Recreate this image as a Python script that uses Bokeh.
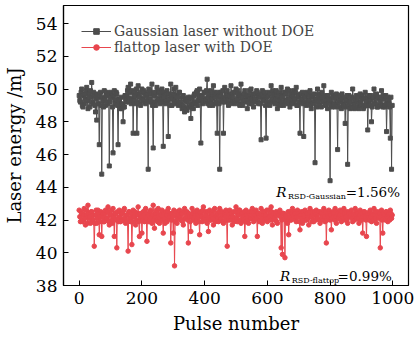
from bokeh.plotting import figure
from bokeh.models import Label, Range1d, FixedTicker, Legend
from bokeh.embed import file_html
from bokeh.resources import INLINE

# Pulse numbers: two interleaved samplings (every 4 pulses, offset by 2)
pulse_a = list(range(0, 1000, 4))
pulse_b = list(range(2, 1000, 4))

gaussian_a = [
    49.6, 49.2, 50.0, 48.9, 49.7, 49.4, 50.1, 48.8, 49.5, 49.9,
    50.4, 49.1, 49.6, 48.6, 48.1, 49.5, 46.6, 49.8, 44.8, 49.3,
    49.9, 49.0, 49.6, 49.2, 45.3, 49.8, 49.5, 46.1, 49.9, 49.1,
    49.7, 46.6, 49.3, 49.0, 48.8, 48.0, 48.9, 49.4, 49.6, 50.1,
    49.2, 50.3, 49.4, 47.3, 49.8, 49.1, 47.3, 50.2, 49.5, 49.0,
    50.0, 49.3, 49.8, 49.1, 49.7, 45.1, 49.9, 49.2, 50.3, 46.4,
    49.6, 49.0, 50.1, 49.4, 49.8, 49.2, 50.0, 46.5, 49.5, 49.1,
    49.9, 47.1, 49.4, 50.3, 49.0, 49.7, 49.3, 50.1, 49.5, 49.0,
    49.8, 49.2, 48.8, 49.6, 48.6, 49.3, 48.7, 49.5, 48.9, 48.2,
    49.4, 48.8, 49.7, 49.1, 49.9, 49.3, 50.0, 46.7, 49.6, 49.2,
    49.8, 49.3, 50.6, 49.5, 49.0, 49.9, 49.4, 50.2, 49.1, 49.7,
    47.3, 49.5, 45.1, 49.8, 49.2, 47.3, 50.1, 49.4, 49.9, 49.0,
    49.6, 50.2, 49.3, 49.8, 49.1, 50.0, 49.4, 49.7, 49.0, 50.3,
    49.5, 49.2, 49.9, 49.3, 48.8, 49.6, 49.1, 50.0, 49.4, 48.9,
    49.7, 49.2, 49.8, 49.1, 49.5, 46.9, 49.9, 49.3, 49.6, 47.0,
    49.2, 49.8, 49.0, 50.2, 49.4, 49.7, 49.1, 49.9, 48.8, 49.6,
    49.3, 50.1, 49.5, 49.0, 49.8, 49.2, 50.0, 49.4, 48.9, 49.7,
    49.1, 49.9, 49.4, 50.1, 49.0, 49.6, 47.3, 49.2, 49.8, 47.1,
    49.5, 49.0, 49.7, 49.3, 49.9, 48.8, 49.6, 49.1, 45.5, 49.4,
    50.0, 49.2, 49.7, 48.9, 49.5, 50.2, 49.1, 49.6, 48.8, 49.4,
    44.4, 49.8, 49.0, 49.5, 48.9, 49.7, 46.3, 49.2, 49.6, 48.8,
    49.4, 49.0, 47.9, 49.3, 45.4, 49.6, 48.8, 49.5, 50.0, 49.1,
    48.9, 49.6, 49.2, 48.8, 49.7, 49.0, 49.4, 48.9, 49.8, 49.2,
    47.5, 49.6, 49.0, 48.0, 49.4, 50.0, 49.1, 49.7, 48.9, 49.5,
    49.2, 49.9, 48.9, 49.6, 49.0, 47.4, 49.5, 49.1, 47.0, 45.1,
]

gaussian_b = [
    49.3, 49.8, 49.0, 49.6, 49.1, 49.9, 49.3, 49.7, 48.9, 49.5,
    49.2, 49.8, 49.0, 49.4, 49.7, 49.1, 49.6, 49.0, 49.5, 48.9,
    49.4, 49.8, 49.1, 49.7, 49.2, 49.5, 48.9, 49.6, 49.3, 49.8,
    49.0, 49.4, 48.8, 49.5, 49.1, 48.9, 49.6, 49.2, 49.9, 49.4,
    49.8, 49.1, 49.9, 49.3, 49.6, 50.0, 49.2, 49.7, 49.1, 49.8,
    49.4, 49.9, 49.2, 49.6, 49.3, 50.0, 49.4, 49.7, 49.0, 49.8,
    49.2, 49.8, 49.3, 49.9, 49.1, 49.6, 49.4, 49.8, 49.2, 49.7,
    49.3, 49.7, 49.0, 49.6, 49.4, 50.0, 49.1, 49.6, 49.2, 49.8,
    49.1, 49.5, 49.0, 48.9, 49.4, 48.8, 49.2, 48.9, 49.5, 49.0,
    49.1, 49.6, 49.2, 49.8, 49.0, 49.6, 49.3, 49.5, 49.1, 49.8,
    49.4, 49.9, 49.1, 49.7, 49.3, 49.6, 49.0, 49.8, 49.5, 49.2,
    49.8, 49.1, 49.6, 49.3, 49.9, 49.5, 49.2, 49.7, 49.3, 49.6,
    49.1, 49.7, 49.5, 49.2, 49.8, 49.3, 49.9, 49.1, 49.6, 49.4,
    49.0, 49.7, 49.3, 49.6, 49.2, 49.9, 49.4, 49.1, 49.7, 49.3,
    49.4, 49.9, 49.2, 49.6, 49.1, 49.7, 49.4, 49.8, 49.0, 49.5,
    49.6, 49.1, 49.7, 49.3, 49.9, 49.2, 49.6, 49.4, 49.1, 49.8,
    49.0, 49.6, 49.2, 49.8, 49.3, 49.7, 49.1, 49.9, 49.4, 49.2,
    49.6, 49.3, 49.8, 49.0, 49.5, 49.2, 49.7, 49.4, 49.1, 49.6,
    49.2, 49.8, 49.1, 49.6, 49.0, 49.5, 49.2, 49.7, 49.3, 48.9,
    49.6, 49.0, 49.4, 49.8, 49.2, 49.5, 49.0, 49.3, 49.6, 49.1,
    49.3, 48.9, 49.6, 49.1, 49.4, 49.0, 49.5, 48.9, 49.3, 49.7,
    49.1, 49.5, 48.9, 49.6, 49.0, 49.2, 49.5, 48.9, 49.4, 48.8,
    49.3, 48.9, 49.5, 49.1, 49.2, 49.6, 48.8, 49.4, 49.0, 49.5,
    49.0, 49.3, 49.6, 48.9, 49.5, 49.1, 49.6, 48.9, 49.4, 49.0,
    49.5, 49.0, 49.4, 48.9, 49.6, 49.1, 49.3, 48.9, 49.5, 49.0,
]

flattop_a = [
    42.6, 41.9, 42.4, 42.0, 42.7, 41.7, 42.3, 42.9, 42.1, 41.8,
    42.5, 42.0, 40.4, 42.3, 41.8, 42.6, 41.1, 42.2, 41.0, 42.4,
    41.9, 42.6, 42.1, 42.8, 41.7, 42.3, 42.0, 42.7, 41.0, 42.4,
    40.3, 42.1, 42.6, 41.9, 42.4, 42.0, 42.7, 41.8, 42.3, 40.1,
    42.5, 41.9, 40.5, 42.6, 42.2, 41.7, 42.4, 42.8, 41.0, 42.1,
    41.2, 42.5, 41.9, 42.7, 40.7, 42.3, 42.0, 42.6, 41.8, 42.9,
    41.5, 42.4, 42.0, 42.7, 41.8, 42.3, 42.6, 41.2, 42.1, 42.5,
    41.9, 42.7, 42.2, 40.6, 42.4, 41.2, 39.2, 42.5, 41.8, 42.3,
    42.6, 42.0, 42.4, 41.7, 42.7, 42.1, 42.5, 40.6, 42.2, 41.3,
    42.7, 42.0, 42.4, 41.8, 42.6, 42.2, 41.1, 42.5, 41.9, 42.8,
    42.1, 42.5, 41.8, 41.3, 42.6, 42.0, 42.3, 41.7, 42.7, 42.2,
    42.4, 41.9, 42.7, 42.1, 42.5, 41.8, 42.3, 42.6, 40.4, 42.0,
    42.6, 42.2, 41.7, 42.5, 42.0, 42.8, 41.9, 42.3, 42.6, 41.8,
    42.4, 42.0, 41.0, 42.6, 42.2, 41.8, 42.5, 42.1, 42.7, 41.9,
    42.3, 42.6, 41.0, 42.4, 42.0, 42.7, 41.8, 42.3, 42.5, 42.1,
    41.9, 42.6, 42.2, 42.8, 41.7, 42.4, 42.0, 42.5, 41.8, 42.3,
    42.6, 40.3, 39.9, 42.4, 39.7, 42.2, 41.8, 41.1, 42.5, 42.0,
    42.7, 42.1, 42.4, 41.9, 42.6, 42.2, 41.4, 42.5, 41.8, 42.3,
    42.6, 42.0, 42.4, 41.7, 42.7, 42.2, 42.5, 41.9, 42.3, 42.6,
    42.1, 42.5, 41.8, 42.4, 42.0, 42.7, 41.9, 40.6, 42.3, 42.6,
    42.0, 41.4, 42.5, 42.2, 42.7, 41.8, 42.4, 42.1, 42.6, 41.9,
    42.3, 42.7, 42.0, 42.5, 41.8, 42.4, 42.2, 42.6, 41.9, 42.3,
    42.7, 42.1, 42.4, 41.8, 42.6, 42.0, 41.2, 42.5, 42.2, 41.0,
    42.4, 42.0, 42.6, 41.9, 42.3, 42.7, 42.1, 41.8, 42.5, 42.2,
    40.3, 42.6, 41.2, 42.3, 42.0, 42.5, 41.9, 42.4, 42.6, 42.1,
]

flattop_b = [
    42.2, 42.5, 41.9, 42.3, 42.1, 42.6, 41.8, 42.4, 42.2, 42.5,
    42.0, 42.3, 41.8, 42.6, 42.1, 42.4, 41.9, 42.5, 42.2, 41.9,
    42.4, 42.1, 42.5, 41.9, 42.3, 42.6, 41.8, 42.2, 42.4, 42.0,
    42.5, 41.9, 42.2, 42.4, 42.0, 42.6, 42.1, 42.3, 41.9, 42.5,
    42.1, 42.4, 41.9, 42.2, 42.5, 42.0, 42.3, 41.9, 42.4, 42.2,
    42.0, 42.3, 42.6, 42.1, 42.4, 41.9, 42.5, 42.2, 42.3, 42.0,
    42.2, 42.6, 41.9, 42.3, 42.1, 42.5, 42.0, 42.4, 41.8, 42.3,
    42.5, 42.1, 42.4, 42.0, 42.2, 42.6, 41.9, 42.3, 42.1, 42.5,
    42.2, 42.4, 41.9, 42.5, 42.1, 42.3, 42.0, 42.4, 41.9, 42.2,
    42.4, 42.1, 42.5, 42.0, 42.3, 41.9, 42.4, 42.2, 42.6, 42.1,
    42.3, 41.9, 42.5, 42.2, 42.0, 42.4, 42.1, 42.6, 41.9, 42.3,
    42.1, 42.5, 42.0, 42.3, 41.9, 42.4, 42.2, 42.0, 42.5, 42.3,
    42.0, 42.4, 42.2, 41.9, 42.5, 42.1, 42.3, 42.6, 42.0, 42.4,
    42.2, 42.5, 41.9, 42.3, 42.0, 42.4, 42.1, 42.5, 42.2, 42.0,
    42.5, 42.1, 42.4, 41.9, 42.3, 42.1, 42.5, 42.0, 42.3, 42.6,
    42.1, 42.3, 42.0, 42.5, 42.2, 42.1, 42.4, 41.9, 42.3, 42.5,
    42.2, 42.0, 42.4, 42.1, 42.3, 41.9, 42.5, 42.2, 42.0, 42.4,
    42.3, 42.5, 42.0, 42.2, 42.4, 41.9, 42.3, 42.1, 42.5, 42.2,
    42.0, 42.4, 42.1, 42.5, 42.2, 41.9, 42.3, 42.5, 42.0, 42.2,
    42.4, 42.0, 42.5, 42.1, 42.3, 42.2, 42.5, 42.0, 42.2, 42.4,
    42.3, 42.1, 42.4, 42.0, 42.2, 42.5, 42.1, 42.3, 42.0, 42.5,
    42.1, 42.4, 42.2, 42.0, 42.5, 42.2, 42.3, 42.1, 42.4, 42.0,
    42.3, 42.5, 42.1, 42.3, 42.0, 42.4, 42.2, 42.5, 42.0, 42.3,
    42.1, 42.5, 42.2, 42.4, 42.0, 42.3, 42.5, 42.2, 42.1, 42.4,
    42.2, 42.0, 42.4, 42.1, 42.5, 42.2, 42.3, 42.0, 42.4, 42.3,
]

x_ticks = [0, 200, 400, 600, 800, 1000]
y_ticks = [38, 40, 42, 44, 46, 48, 50, 52, 54]
series_names = ["Gaussian laser without DOE", "flattop laser with DOE"]

# merge the two interleaved samplings in pulse order
pulse = [v for pair in zip(pulse_a, pulse_b) for v in pair]
gaussian = [v for pair in zip(gaussian_a, gaussian_b) for v in pair]
flattop = [v for pair in zip(flattop_a, flattop_b) for v in pair]

GRAY = "#4d4d4d"
RED = "#e8464e"
FONT = "DejaVu Serif"

p = figure(width=416, height=340, output_backend="svg", toolbar_location=None,
           x_range=Range1d(-50, 1050), y_range=Range1d(38, 55.1),
           min_border_left=60, min_border_right=8, min_border_top=5, min_border_bottom=55)

p.xgrid.visible = False
p.ygrid.visible = False
p.outline_line_color = "black"
p.outline_line_width = 1.2
p.background_fill_color = "white"
p.border_fill_color = "white"

g_line = p.line(pulse, gaussian, line_color=GRAY, line_width=1)
g_pts = p.scatter(pulse, gaussian, marker="square", size=4, fill_color=GRAY, line_color=GRAY)
f_line = p.line(pulse, flattop, line_color=RED, line_width=1)
f_pts = p.scatter(pulse, flattop, marker="circle", size=4.5, fill_color=RED, line_color=RED)

legend = Legend(items=[(series_names[0], [g_line, g_pts]), (series_names[1], [f_line, f_pts])],
                location="top_left", margin=18, padding=0, spacing=0,
                glyph_width=30, glyph_height=14, label_height=14, label_standoff=3,
                label_text_font=FONT, label_text_font_size="14px",
                background_fill_alpha=0, border_line_color=None)
p.add_layout(legend)

for ax in (p.xaxis[0], p.yaxis[0]):
    ax.major_label_text_font = FONT
    ax.major_label_text_font_size = "17px"
    ax.major_label_text_color = "black"
    ax.axis_label_text_font = FONT
    ax.axis_label_text_font_size = "18px"
    ax.axis_label_text_font_style = "normal"
    ax.axis_label_text_color = "black"
    ax.axis_line_color = "black"
    ax.axis_line_width = 1.2
    ax.major_tick_in = 5
    ax.major_tick_out = 0
    ax.major_tick_line_color = "black"
    ax.minor_tick_line_color = None
    ax.major_label_standoff = 6

p.xaxis.ticker = FixedTicker(ticks=x_ticks)
p.yaxis.ticker = FixedTicker(ticks=y_ticks)
p.xaxis.axis_label = "Pulse number"
p.yaxis.axis_label = "Laser energy /mJ"
p.xaxis.axis_label_standoff = 6
p.yaxis.axis_label_standoff = 8

def add_label(x, y, text, size, style="normal"):
    p.add_layout(Label(x=x, y=y, text=text, text_font=FONT, text_font_size=size,
                       text_font_style=style, text_color="black", text_baseline="alphabetic"))

add_label(628, 43.69, "R", "13.5px", "italic")
add_label(666, 43.44, "RSD-Gaussian", "8px")
add_label(850, 43.69, "=1.56%", "13.5px")
add_label(640, 38.61, "R", "13.5px", "italic")
add_label(678, 38.30, "RSD-flattop", "8px")
add_label(824, 38.61, "=0.99%", "13.5px")

open("out.html", "w").write(file_html(p, INLINE))
